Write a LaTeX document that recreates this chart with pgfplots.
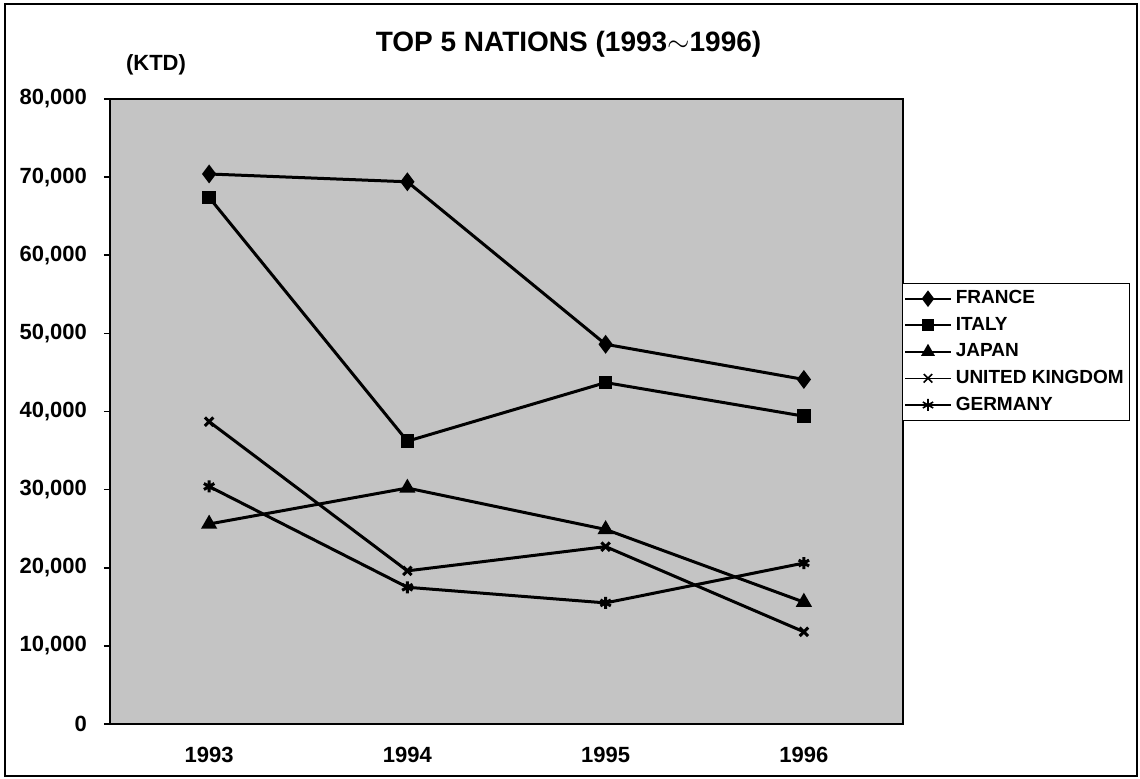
\documentclass[border=0pt]{standalone}
\usepackage{pgfplots}
\pgfplotsset{compat=1.18}
\usepackage{fontspec}
\setmainfont{Liberation Sans}
\begin{document}
\begin{tikzpicture}
\path (0pt,0pt) rectangle (570pt,389.5pt);
\draw[line width=0.8pt] (2.5pt,1.5pt) rectangle (568.5pt,387.5pt);
\node[font=\fontsize{14}{16}\selectfont\bfseries] at (284.25pt,367.5pt) {TOP 5 NATIONS (1993$\sim$1996)};
\node[font=\fontsize{11}{13}\selectfont\bfseries] at (78pt,357pt) {(KTD)};
\begin{axis}[
  at={(55pt,27.5pt)}, anchor=south west,
  scale only axis, width=396.5pt, height=312.5pt,
  xmin=-0.5, xmax=3.5, ymin=0, ymax=80000,
  xtick={0,1,2,3}, xticklabels={1993,1994,1995,1996},
  ytick={0,10000,20000,30000,40000,50000,60000,70000,80000},
  ytick pos=left,
  scaled y ticks=false,
  /pgf/number format/.cd, fixed, 1000 sep={,}, assume math mode=true,
  /pgfplots/.cd,
  ticklabel style={font=\fontsize{11}{13}\selectfont\bfseries},
  xticklabel style={yshift=-5pt},
  yticklabel style={xshift=-5pt},
  x tick style={draw=none},
  y tick style={black, line width=0.8pt},
  tick align=outside, major tick length=3pt,
  axis line style={line width=1.3pt},
  axis background/.style={fill=black!23},
  legend cell align=left,
  legend style={at={(1,0.7056)}, anchor=north west, xshift=-0.5pt,
    font=\fontsize{9.5}{11}\selectfont\bfseries, draw=black, line width=0.6pt,
    row sep=1.2pt, inner xsep=0.8pt, inner ysep=1.5pt},
  legend image code/.code={
    \draw[line width=0.8pt, mark repeat=2, mark phase=2, #1] plot coordinates {(0pt,0pt) (11.5pt,0pt) (23pt,0pt)};
  },
  every axis plot/.append style={line width=1.5pt, black, mark options={solid}},
]
\addplot[mark=diamond*, mark size=3.5pt] coordinates {(0,70400) (1,69400) (2,48600) (3,44100)};
\addlegendentry{FRANCE}
\addplot[mark=square*, mark size=2.6pt] coordinates {(0,67400) (1,36200) (2,43700) (3,39400)};
\addlegendentry{ITALY}
\addplot[mark=triangle*, mark size=3.2pt] coordinates {(0,25600) (1,30200) (2,24900) (3,15600)};
\addlegendentry{JAPAN}
\addplot[mark=x, mark size=3pt] coordinates {(0,38700) (1,19600) (2,22700) (3,11800)};
\addlegendentry{UNITED KINGDOM}
\addplot[mark=asterisk, mark size=3pt] coordinates {(0,30400) (1,17500) (2,15500) (3,20600)};
\addlegendentry{GERMANY}
\end{axis}
\end{tikzpicture}
\end{document}
